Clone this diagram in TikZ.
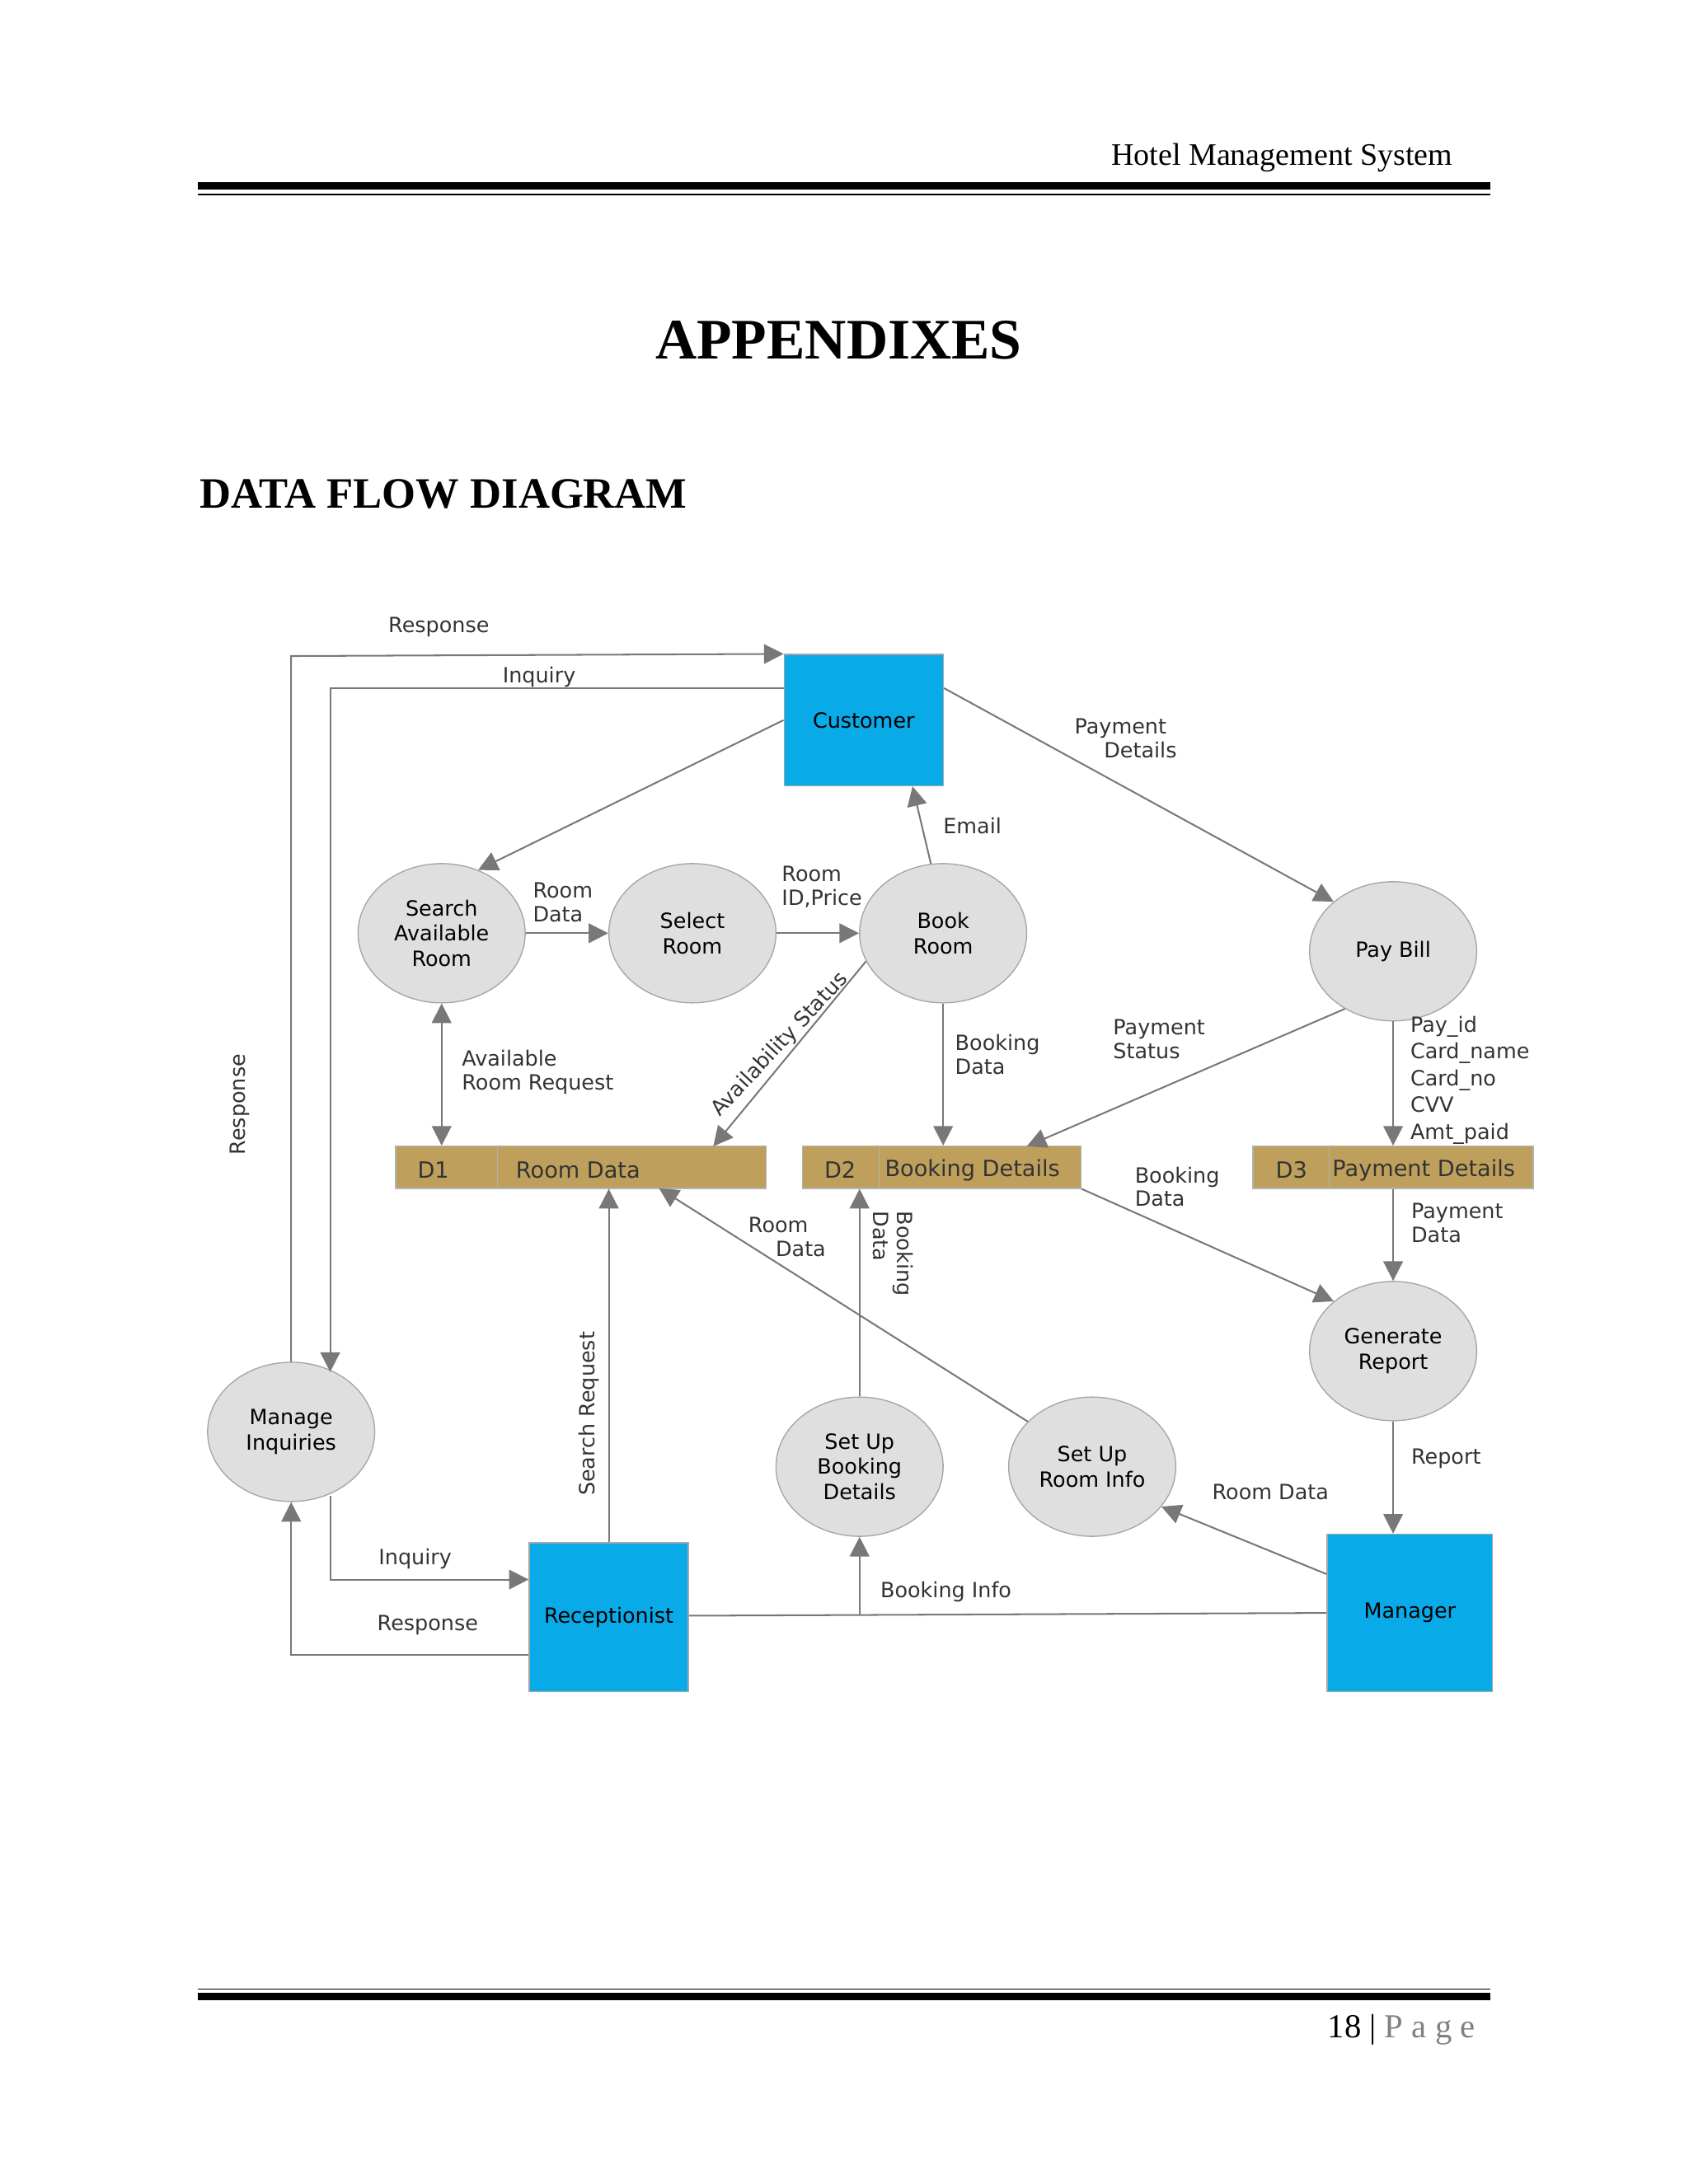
\documentclass[tikz,border=0pt]{standalone}
\usepackage{fontspec}
\setmainfont{Liberation Serif}
\newfontfamily\dfd{DejaVu Sans}
\usetikzlibrary{shapes.geometric,arrows.meta}
\definecolor{entblue}{RGB}{8,170,232}
\definecolor{storetan}{RGB}{190,160,92}
\definecolor{flowgray}{RGB}{120,120,120}
\tikzset{
  entity/.style={draw=gray!70,fill=entblue,minimum width=2.0cm,minimum height=1.65cm,font=\dfd\fontsize{7.5}{9}\selectfont},
  proc/.style={ellipse,draw=gray!70,fill=gray!25,minimum width=2.1cm,minimum height=1.75cm,align=center,font=\dfd\fontsize{7.5}{9}\selectfont,inner sep=0pt},
  store/.style={draw=gray!60,fill=storetan,minimum height=0.53cm,inner sep=0pt},
  flow/.style={draw=flowgray,line width=0.6pt,-{Triangle[length=7pt,width=7pt]}},
  lbl/.style={font=\dfd\fontsize{7.5}{8.5}\selectfont,align=left,inner sep=1pt,text=black!80}
}
\begin{document}
\begin{tikzpicture}[x=0.0175cm,y=-0.0175cm]
  \useasboundingbox (0,0) rectangle (1212,1568);
  % page header and footer
  \node[anchor=east,inner sep=0pt,font=\fontsize{11.2}{13}\selectfont] (hdr) at (1043,113) {Hotel Management System};
  \fill (142,131) rectangle (1070,136);
  \draw[line width=0.5pt] (142,139.5) -- (1070,139.5);
  \node[font=\bfseries\fontsize{20.5}{24}\selectfont] (apx) at (602,244) {APPENDIXES};
  \node[anchor=west,inner sep=0pt,font=\bfseries\fontsize{15.5}{19}\selectfont] (dfdtitle) at (143,355) {DATA FLOW DIAGRAM};
  \draw[line width=0.5pt] (142,1428) -- (1070,1428);
  \fill (142,1431) rectangle (1070,1436);
  \node[anchor=east,font=\fontsize{12}{14}\selectfont] (pg) at (1066,1457) {18 | \textcolor{gray}{P a g e}};
  % entities
  \node[entity] (cust) at (620,517) {Customer};
  \node[entity,minimum height=1.87cm] (recp) at (437,1161) {Receptionist};
  \node[entity,minimum width=2.08cm,minimum height=1.98cm] (mgr) at (1012,1158) {Manager};
  % processes
  \node[proc] (search) at (317,670) {Search\\Available\\Room};
  \node[proc] (select) at (497,670) {Select\\Room};
  \node[proc] (book) at (677,670) {Book\\Room};
  \node[proc] (pay) at (1000,683) {Pay Bill};
  \node[proc] (gen) at (1000,970) {Generate\\Report};
  \node[proc] (manage) at (209,1028) {Manage\\Inquiries};
  \node[proc] (setbook) at (617,1053) {Set Up\\Booking\\Details};
  \node[proc] (setroom) at (784,1053) {Set Up\\Room Info};
  % data stores
  \node[store,minimum width=4.655cm] (d1) at (417,838) {};
  \node[store,minimum width=3.5cm] (d2) at (676,838) {};
  \node[store,minimum width=3.52cm] (d3) at (1000,838) {};
  \draw[gray!60] (357,823) -- (357,853) (631,823) -- (631,853) (954,823) -- (954,853);
  \foreach \n/\x/\t in {d1a/311/D1,d1b/415/Room Data,d2a/603/D2,d2b/698/Booking Details,d3a/927/D3,d3b/1022/Payment Details}
    \node[lbl,font=\dfd\fontsize{8}{9}\selectfont] (\n) at (\x,840) {\t};
  % coordinates for bends
  \coordinate (rtop) at (209,471);
  \coordinate (itop) at (237,494);
  \coordinate (ibot) at (237,1134);
  \coordinate (rbot) at (209,1188);
  \coordinate (bk) at (617,1160);
  % flows
  \draw[flow] (manage.north) -- (rtop) -- (cust.north west);
  \draw[flow] (cust.west |- itop) -- (itop) -- (237,985);
  \draw[flow] (cust.west) -- (search.60);
  \draw[flow] (cust.east |- itop) -- (pay.north west);
  \draw[flow] (book.100) -- (cust.south -| 655,0);
  \draw[flow] (search) -- (select);
  \draw[flow] (select) -- (book);
  \draw[flow,{Triangle[length=7pt,width=7pt]}-{Triangle[length=7pt,width=7pt]}] (search) -- (search |- d1.north);
  \draw[flow] (book.200) -- (512,823);
  \draw[flow] (book) -- (book |- d2.north);
  \draw[flow] (pay.230) -- (737,823);
  \draw[flow] (pay) -- (pay |- d3.north);
  \draw[flow] (d2.south east) -- (gen.140);
  \draw[flow] (d3) -- (gen);
  \draw[flow] (gen) -- (gen |- mgr.north);
  \draw[flow] (mgr.155) -- (setroom.330);
  \draw[flow] (setroom.145) -- (473,853);
  \draw[draw=flowgray,line width=0.6pt] (recp.east |- bk) -- (mgr.west |- 0,1158);
  \draw[flow] (bk) -- (setbook);
  \draw[flow] (setbook) -- (setbook |- d2.south);
  \draw[flow] (recp) -- (recp |- d1.south);
  \draw[flow] (237,1074) -- (ibot) -- (recp.west |- ibot);
  \draw[flow] (recp.west |- rbot) -- (rbot) -- (manage.south);
  % flow labels
  \node[lbl] (l1) at (315,450) {Response};
  \node[lbl,rotate=90] (l2) at (172,793) {Response};
  \node[lbl] (l3) at (387,486) {Inquiry};
  \node[lbl] (l4) at (808,530) {Payment\\\hspace{1.4em}Details};
  \node[lbl] (l5) at (698,593) {Email};
  \node[lbl] (l6) at (404,648) {Room\\Data};
  \node[lbl] (l7) at (590,637) {Room\\ID,Price};
  \node[lbl] (l8) at (386,770) {Available\\Room Request};
  \node[lbl,rotate=47] (l9) at (560,750) {Availability Status};
  \node[lbl] (l10) at (716,757) {Booking\\Data};
  \node[lbl] (l11) at (832,746) {Payment\\Status};
  \node[lbl,anchor=north west,font=\dfd\fontsize{7.5}{9.6}\selectfont] (l12) at (1010,727) {Pay\_id\\Card\_name\\Card\_no\\CVV\\Amt\_paid};
  \node[lbl] (l13) at (845,852) {Booking\\Data};
  \node[lbl] (l14) at (1046,878) {Payment\\Data};
  \node[lbl] (l15) at (1038,1047) {Report};
  \node[lbl] (l16) at (912,1071) {Room Data};
  \node[lbl] (l17) at (565,888) {Room\\\hspace{1.3em}Data};
  \node[lbl] (l18) at (679,1143) {Booking Info};
  \node[lbl,rotate=-90] (l19) at (641,900) {Booking\\Data};
  \node[lbl,rotate=90] (l20) at (423,1015) {Search Request};
  \node[lbl] (l21) at (298,1119) {Inquiry};
  \node[lbl] (l22) at (307,1167) {Response};
\end{tikzpicture}
\end{document}
